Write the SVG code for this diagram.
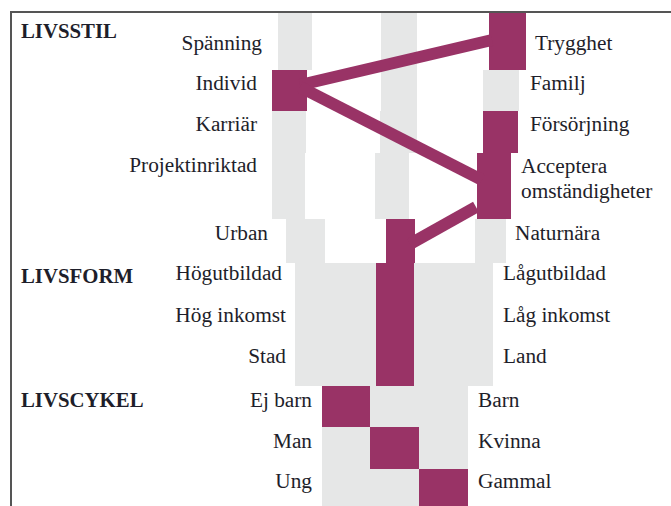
<svg xmlns="http://www.w3.org/2000/svg" width="671" height="506" viewBox="0 0 671 506">
<style>
.g{fill:#e6e7e7}
.p{fill:#993366}
.t{font-family:"Liberation Serif","Times New Roman",serif;font-size:21.3px;fill:#1e1e2a}
.e{text-anchor:end}
.h{font-weight:bold;font-size:20.8px}
.c{stroke:#993366;stroke-width:12;fill:none;stroke-linecap:butt}
.f{stroke:#555;stroke-width:2;fill:none}
</style>
<rect width="671" height="506" fill="#fff"/>
<path class="f" d="M11,506 V12 H671"/>
<g id="headings">
<text class="t h" x="21" y="38">LIVSSTIL</text>
<text class="t h" x="21" y="283">LIVSFORM</text>
<text class="t h" x="21" y="407">LIVSCYKEL</text>
</g>
<g id="spanning-trygghet">
<rect class="g" x="278" y="13" width="34" height="57"/>
<rect class="g" x="381" y="13" width="36" height="57"/>
<rect class="p" x="489" y="13" width="37" height="57"/>
<text class="t e" x="262" y="50">Spänning</text>
<text class="t" x="535" y="50">Trygghet</text>
</g>
<g id="individ-familj">
<rect class="p" x="272" y="70" width="35" height="41"/>
<rect class="g" x="381" y="70" width="36" height="41"/>
<rect class="g" x="483" y="70" width="36" height="41"/>
<text class="t e" x="257" y="90">Individ</text>
<text class="t" x="530" y="90">Familj</text>
</g>
<g id="karriar-forsorjning">
<rect class="g" x="272" y="111" width="34" height="42"/>
<rect class="g" x="380" y="111" width="37" height="42"/>
<rect class="p" x="483" y="111" width="35" height="42"/>
<text class="t e" x="257" y="131">Karriär</text>
<text class="t" x="530" y="131">Försörjning</text>
</g>
<g id="projekt-acceptera">
<rect class="g" x="272" y="153" width="33" height="66"/>
<rect class="g" x="375" y="153" width="34" height="66"/>
<rect class="p" x="477" y="153" width="34" height="66"/>
<text class="t e" x="257" y="172">Projektinriktad</text>
<text class="t" x="521" y="173">Acceptera</text>
<text class="t" x="521" y="198">omständigheter</text>
</g>
<g id="urban-naturnara">
<rect class="g" x="286" y="219" width="39" height="44"/>
<rect class="p" x="386" y="219" width="29" height="44"/>
<rect class="g" x="475" y="219" width="31" height="44"/>
<text class="t e" x="268" y="240">Urban</text>
<text class="t" x="515" y="240">Naturnära</text>
</g>
<g id="utbildning">
<rect class="g" x="295" y="263" width="81" height="41"/>
<rect class="p" x="376" y="263" width="38" height="41"/>
<rect class="g" x="414" y="263" width="79" height="41"/>
<text class="t e" x="282" y="280">Högutbildad</text>
<text class="t" x="503" y="280">Lågutbildad</text>
</g>
<g id="inkomst">
<rect class="g" x="295" y="304" width="81" height="41"/>
<rect class="p" x="376" y="304" width="38" height="41"/>
<rect class="g" x="414" y="304" width="79" height="41"/>
<text class="t e" x="286" y="322">Hög inkomst</text>
<text class="t" x="503" y="322">Låg inkomst</text>
</g>
<g id="stad-land">
<rect class="g" x="295" y="345" width="81" height="41"/>
<rect class="p" x="376" y="345" width="38" height="41"/>
<rect class="g" x="414" y="345" width="79" height="41"/>
<text class="t e" x="286" y="363">Stad</text>
<text class="t" x="503" y="363">Land</text>
</g>
<g id="barn">
<rect class="p" x="322" y="386" width="48" height="41"/>
<rect class="g" x="370" y="386" width="49" height="41"/>
<rect class="g" x="419" y="386" width="49" height="41"/>
<text class="t e" x="312" y="407">Ej barn</text>
<text class="t" x="478" y="407">Barn</text>
</g>
<g id="kon">
<rect class="g" x="322" y="427" width="48" height="42"/>
<rect class="p" x="370" y="427" width="49" height="42"/>
<rect class="g" x="419" y="427" width="49" height="42"/>
<text class="t e" x="312" y="448">Man</text>
<text class="t" x="478" y="448">Kvinna</text>
</g>
<g id="alder">
<rect class="g" x="322" y="469" width="48" height="37"/>
<rect class="g" x="370" y="469" width="49" height="37"/>
<rect class="p" x="419" y="469" width="49" height="37"/>
<text class="t e" x="312" y="488">Ung</text>
<text class="t" x="478" y="488">Gammal</text>
</g>
<g id="connectors">
<line class="c" x1="300" y1="85" x2="492" y2="40"/>
<line class="c" x1="300" y1="87" x2="482" y2="180"/>
<line class="c" x1="410" y1="244" x2="476" y2="207"/>
</g>
</svg>
